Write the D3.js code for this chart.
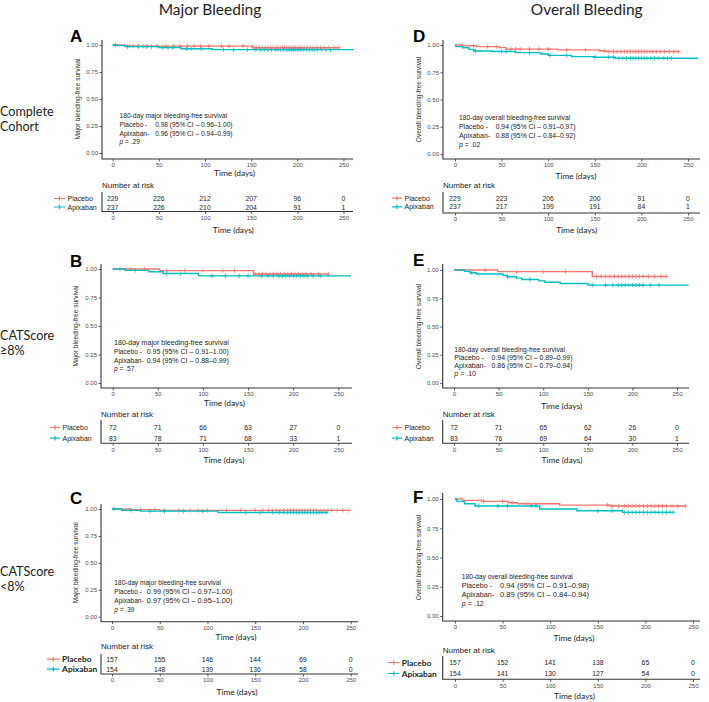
<!DOCTYPE html>
<html><head><meta charset="utf-8">
<script src="https://cdn.jsdelivr.net/npm/d3@7"></script>
<style>body{margin:0;background:#fff}svg{display:block}</style>
</head><body><svg id="c" width="709" height="702"></svg>
<script>
// ---------- data ----------
const timeTicks=[0,50,100,150,200,250];
const survTicks=[0,0.25,0.5,0.75,1];
const groups=["Placebo","Apixaban"];
const groupColors=["#F8766D","#00BFC4"];
const colTitles=["Major Bleeding","Overall Bleeding"];
const rowLabels=[["Complete","Cohort"],["CATScore","≥8%"],["CATScore","<8%"]];
const yLabels=["Major bleeding-free survival","Overall bleeding-free survival"];
const annoTitles=["180-day major bleeding-free survival","180-day overall bleeding-free survival"];

// Panel A – major bleeding, complete cohort
const aPlaceboT=[0,13,152], aPlaceboS=[1,0.99,0.975], aPlaceboEnd=245;
const aPlaceboCens=[18,22,27,33,38,48,58,66,73,81,88,95,104,118,126,141,152,156,159,162,165,168,171,174,177,179,182,184,186,188,190,192,194,196,198,200,202,204,206,208,211,214,217,221,225,229,234,240,245];
const aApixT=[0,5,14,50,74,108], aApixS=[1,0.994,0.985,0.976,0.965,0.957], aApixEnd=261;
const aApixCens=[3,16,28,36,42,54,60,65,80,85,96,120,131,146,155,160,164,168,172,176,179,182,185,188,190,192,194,196,198,200,202,204,207,210,213,216,219,222,226,231,236];
const aRiskPlacebo=[229,226,212,207,96,0], aRiskApix=[237,226,210,204,91,1];
const aEst=["0.98 (95% CI – 0.96–1.00)","0.96 (95% CI – 0.94–0.99)"], aP=".29";

// Panel B – major bleeding, CATScore >=8%
const bPlaceboT=[0,52,156], bPlaceboS=[1,0.986,0.956], bPlaceboEnd=239;
const bPlaceboCens=[8,20,35,60,80,100,122,135,158,162,166,170,174,178,182,186,190,194,198,202,206,210,214,220,228,239];
const bApixT=[0,14,40,56,95], bApixS=[1,0.988,0.976,0.96,0.94], bApixEnd=264;
const bApixCens=[25,60,75,110,125,140,150,165,172,178,184,188,192,196,200,204,208,212,216,222,230];
const bRiskPlacebo=[72,71,66,63,27,0], bRiskApix=[83,78,71,68,33,1];
const bEst=["0.95 (95% CI – 0.91–1.00)","0.94 (95% CI – 0.88–0.99)"], bP=".57";

// Panel C – major bleeding, CATScore <8%
const cPlaceboT=[0,20,50], cPlaceboS=[1,0.994,0.987], cPlaceboEnd=248;
const cPlaceboCens=[30,45,55,70,82,90,100,120,135,150,158,164,168,172,176,180,184,187,190,193,196,199,202,205,208,211,214,218,222,226,230,236,242,248];
const cApixT=[0,10,30,111], cApixS=[1,0.987,0.98,0.968], cApixEnd=226;
const cApixCens=[2,20,40,55,75,95,140,155,168,175,180,184,187,190,193,196,199,202,205,208,211,214,217,220,224];
const cRiskPlacebo=[157,155,146,144,69,0], cRiskApix=[154,148,139,136,58,0];
const cEst=["0.99 (95% CI – 0.97–1.00)","0.97 (95% CI – 0.95–1.00)"], cP=".39";

// Panel D – overall bleeding, complete cohort
const dPlaceboT=[0,8,23,48,55,110,155,162], dPlaceboS=[1,0.993,0.985,0.976,0.962,0.955,0.947,0.94], dPlaceboEnd=240;
const dPlaceboCens=[20,35,45,60,65,70,80,90,100,120,140,160,165,170,174,178,182,185,188,191,194,197,200,203,206,209,212,216,220,225,230,235,240];
const dApixT=[0,1,8,15,20,40,65,92,100,125,150,172], dApixS=[1,0.985,0.975,0.96,0.945,0.94,0.93,0.918,0.905,0.893,0.887,0.878], dApixEnd=261;
const dApixCens=[22,50,55,80,102,120,150,165,170,176,180,184,188,191,194,197,200,203,206,210,214,218,224,228,232];
const dRiskPlacebo=[229,223,206,200,91,0], dRiskApix=[237,217,199,191,84,1];
const dEst=["0.94 (95% CI – 0.91–0.97)","0.88 (95% CI – 0.84–0.92)"], dP=".02";

// Panel E – overall bleeding, CATScore >=8%
const ePlaceboT=[0,49,155], ePlaceboS=[1,0.986,0.943], ePlaceboEnd=238;
const ePlaceboCens=[35,70,100,125,160,165,170,175,180,184,188,192,196,200,204,208,212,218,225,232,238];
const eApixT=[0,12,18,25,55,60,70,76,95,102,119,150], eApixS=[1,0.988,0.976,0.964,0.952,0.94,0.928,0.916,0.904,0.892,0.88,0.866], eApixEnd=263;
const eApixCens=[20,60,85,155,170,178,184,188,192,196,200,204,208,212,220,230];
const eRiskPlacebo=[72,71,65,62,26,0], eRiskApix=[83,76,69,64,30,1];
const eEst=["0.94 (95% CI – 0.89–0.99)","0.86 (95% CI – 0.79–0.94)"], eP=".10";

// Panel F – overall bleeding, CATScore <8%
const fPlaceboT=[0,8,28,56,66,110,163], fPlaceboS=[1,0.988,0.98,0.968,0.96,0.948,0.94], fPlaceboEnd=242;
const fPlaceboCens=[30,50,60,75,85,160,165,172,178,182,186,190,194,198,202,206,210,214,218,222,228,234,242];
const fApixT=[0,2,10,21,89,128,176], fApixS=[1,0.98,0.96,0.94,0.915,0.9,0.886], fApixEnd=229;
const fApixCens=[25,45,55,80,85,150,165,178,182,186,190,194,198,202,206,210,214,218,222,226,229];
const fRiskPlacebo=[157,152,141,138,65,0], fRiskApix=[154,141,130,127,54,0];
const fEst=["0.94 (95% CI – 0.91–0.98)","0.89 (95% CI – 0.84–0.94)"], fP=".12";

// ---------- layout ----------
const panels=[
 {letter:"A",col:0,curves:[[aPlaceboT,aPlaceboS,aPlaceboEnd,aPlaceboCens],[aApixT,aApixS,aApixEnd,aApixCens]],risk:[aRiskPlacebo,aRiskApix],est:aEst,p:aP,
  L:{ax:102,top:40,bottom:159,right:353,t0:112.7,t250:343.5,y0:153,y1:45,letter:[70,41.7],yLab:79.5,xlab:[234.5,176],
     anno:[119.5,118.4,8.6],valDx:35.7,fsT:6.66,fsL:6.6,fsV:6.6,
     tb:{title:187.5,b1:201,b2:209.5,axis:211.5,top:192,xlab:[233.3,232.5],leg:54,legW:11,legBold:false}}},
 {letter:"B",col:0,curves:[[bPlaceboT,bPlaceboS,bPlaceboEnd,bPlaceboCens],[bApixT,bApixS,bApixEnd,bApixCens]],risk:[bRiskPlacebo,bRiskApix],est:bEst,p:bP,
  L:{ax:101,top:264,bottom:388,right:352,t0:112.7,t250:338.3,y0:383,y1:269,letter:[70,266.7],yLab:78,xlab:[224.5,405.5],
     anno:[114,344.7,8.9],valDx:32.7,fsT:7.1,fsL:6.6,fsV:7.0,
     tb:{title:417.3,b1:430,b2:440.7,axis:443.3,top:420,xlab:[224,462.5],leg:50,legW:10,legBold:false}}},
 {letter:"C",col:0,curves:[[cPlaceboT,cPlaceboS,cPlaceboEnd,cPlaceboCens],[cApixT,cApixS,cApixEnd,cApixCens]],risk:[cRiskPlacebo,cRiskApix],est:cEst,p:cP,
  L:{ax:101,top:504,bottom:621.7,right:358,t0:112,t250:350.7,y0:616.7,y1:509,letter:[70,503.5],yLab:78,xlab:[236,640],
     anno:[114.3,585.3,8.8],valDx:32.5,fsT:6.6,fsL:6.5,fsV:7.3,
     tb:{title:649,b1:661.7,b2:671.7,axis:674,top:654,xlab:[237,695],leg:47,legW:12.6,legBold:true}}},
 {letter:"D",col:1,curves:[[dPlaceboT,dPlaceboS,dPlaceboEnd,dPlaceboCens],[dApixT,dApixS,dApixEnd,dApixCens]],risk:[dRiskPlacebo,dRiskApix],est:dEst,p:dP,
  L:{ax:443,top:40,bottom:159,right:700,t0:455,t250:688,y0:154,y1:45,letter:[413,41.7],yLab:421,xlab:[576,178.5],
     anno:[459,120,8.9],valDx:36.7,fsT:6.7,fsL:6.9,fsV:6.8,
     tb:{title:188,b1:200.7,b2:209.3,axis:213,top:192,xlab:[576.7,232.5],leg:392,legW:10,legBold:false}}},
 {letter:"E",col:1,curves:[[ePlaceboT,ePlaceboS,ePlaceboEnd,ePlaceboCens],[eApixT,eApixS,eApixEnd,eApixCens]],risk:[eRiskPlacebo,eRiskApix],est:eEst,p:eP,
  L:{ax:442.7,top:264,bottom:388,right:689,t0:454,t250:677,y0:383,y1:270,letter:[413,266],yLab:420.5,xlab:[561.7,408.5],
     anno:[454.3,351.5,8.1],valDx:37.3,fsT:6.66,fsL:7,fsV:6.9,
     tb:{title:417.3,b1:430,b2:440.7,axis:443.3,top:420,xlab:[562,462.5],leg:392,legW:10,legBold:false}}},
 {letter:"F",col:1,curves:[[fPlaceboT,fPlaceboS,fPlaceboEnd,fPlaceboCens],[fApixT,fApixS,fApixEnd,fApixCens]],risk:[fRiskPlacebo,fRiskApix],est:fEst,p:fP,
  L:{ax:442.7,top:493,bottom:621,right:700,t0:455,t250:693,y0:616,y1:499,letter:[413,503.3],yLab:421,xlab:[574,641],
     anno:[461.7,579,9.1],valDx:38.3,fsT:6.7,fsL:7.2,fsV:7.6,
     tb:{title:653.3,b1:665,b2:676,axis:679.3,top:656,xlab:[574.5,699],leg:388.3,legW:11,legBold:true}}}
];

const svg=d3.select("#c");
const SANS="'Liberation Sans', Arial, sans-serif";
const CAL="Lato, 'Open Sans', sans-serif";

// column titles & row labels
const colX=[210,586.7];
svg.selectAll("text.coltitle").data(colTitles).enter().append("text").attr("class","coltitle")
  .attr("x",(d,i)=>colX[i]).attr("y",15).attr("text-anchor","middle")
  .attr("font-family",CAL).attr("font-size",15.5).attr("fill","#222").text(d=>d);
const rowY=[[116,131],[340,354.5],[576,590.7]];
rowLabels.forEach((r,i)=>{
  r.forEach((t,j)=>svg.append("text").attr("x",0).attr("y",rowY[i][j]).attr("font-family",CAL)
    .attr("font-size",12.6).attr("fill","#222").text(t));
});

function stepVal(T,S,t){let v=S[0];for(let i=0;i<T.length;i++){if(T[i]<=t)v=S[i];}return v;}

function styleAxis(a,fs){
  a.select(".domain").remove();
  a.selectAll(".tick line").attr("stroke","#333").attr("stroke-width",0.8);
  a.selectAll(".tick text").attr("fill","#4d4d4d").attr("font-family",SANS).attr("font-size",fs);
}

panels.forEach(P=>{
  const L=P.L, g=svg.append("g");
  const x=d3.scaleLinear().domain([0,250]).range([L.t0,L.t250]);
  const y=d3.scaleLinear().domain([0,1]).range([L.y0,L.y1]);
  g.append("text").attr("x",L.letter[0]).attr("y",L.letter[1]).attr("font-family",SANS)
    .attr("font-weight","bold").attr("font-size",17).text(P.letter);
  const ya=g.append("g").attr("transform",`translate(${L.ax},0)`)
    .call(d3.axisLeft(y).tickValues(survTicks).tickFormat(d3.format(".2f")).tickSize(2.5).tickPadding(1.5));
  styleAxis(ya,6);
  const xa=g.append("g").attr("transform",`translate(0,${L.bottom})`)
    .call(d3.axisBottom(x).tickValues(timeTicks).tickSize(2.5).tickPadding(1.5));
  styleAxis(xa,6);
  g.append("path").attr("d",`M${L.ax},${L.top}V${L.bottom}H${L.right}`).attr("fill","none")
    .attr("stroke","#333").attr("stroke-width",1.1);
  g.append("text").attr("transform",`translate(${L.yLab},${(L.y0+L.y1)/2}) rotate(-90)`)
    .attr("text-anchor","middle").attr("font-family",SANS).attr("font-size",6.6).attr("fill","#333").text(yLabels[P.col]);
  g.append("text").attr("x",L.xlab[0]).attr("y",L.xlab[1]).attr("text-anchor","middle")
    .attr("font-family",CAL).attr("font-size",8.4).attr("fill","#222").text("Time (days)");
  // curves
  P.curves.forEach((c,k)=>{
    const [T,S,end,cens]=c;
    const pts=T.map((t,i)=>[t,S[i]]); pts.push([end,S[S.length-1]]);
    const line=d3.line().x(d=>x(d[0])).y(d=>y(d[1])).curve(d3.curveStepAfter);
    g.append("path").attr("d",line(pts)).attr("fill","none").attr("stroke",groupColors[k]).attr("stroke-width",1.4);
    const h=2.2;
    g.append("path").attr("d",cens.map(t=>{const cx=x(t),cy=y(stepVal(T,S,t));return `M${cx-h},${cy}H${cx+h}M${cx},${cy-h}V${cy+h}`;}).join(""))
      .attr("stroke",groupColors[k]).attr("stroke-width",0.8).attr("fill","none");
  });
  // annotation
  const [ax0,ay0,dy]=L.anno;
  const an=g.append("g").attr("font-family",SANS).attr("fill","#222");
  an.append("text").attr("x",ax0).attr("y",ay0).attr("font-size",L.fsT).text(annoTitles[P.col]);
  an.append("text").attr("x",ax0).attr("y",ay0+dy).attr("font-size",L.fsL).text("Placebo -");
  an.append("text").attr("x",ax0+L.valDx).attr("y",ay0+dy).attr("font-size",L.fsV).text(P.est[0]);
  an.append("text").attr("x",ax0).attr("y",ay0+2*dy).attr("font-size",L.fsL).text("Apixaban-");
  an.append("text").attr("x",ax0+L.valDx).attr("y",ay0+2*dy).attr("font-size",L.fsV).text(P.est[1]);
  const pt=an.append("text").attr("x",ax0).attr("y",ay0+3*dy).attr("font-size",L.fsL);
  pt.append("tspan").attr("font-style","italic").text("p");
  pt.append("tspan").text(" = "+P.p);
  // risk table
  const tb=L.tb;
  g.append("text").attr("x",L.ax).attr("y",tb.title).attr("font-family",SANS).attr("font-size",8).attr("fill","#222").text("Number at risk");
  [tb.b1,tb.b2].forEach((by,k)=>{
    g.append("g").selectAll("text").data(P.risk[k]).enter().append("text")
      .attr("x",(d,i)=>x(timeTicks[i])).attr("y",by).attr("text-anchor","middle")
      .attr("font-family",SANS).attr("font-size",6.8).attr("fill","#222").text(d=>d);
    const my=by-2.5;
    g.append("path").attr("d",`M${tb.leg},${my}H${tb.leg+tb.legW}M${tb.leg+tb.legW/2},${my-2.2}V${my+2.2}`)
      .attr("stroke",groupColors[k]).attr("stroke-width",1.2);
    g.append("text").attr("x",tb.leg+tb.legW+2.5).attr("y",tb.legBold?by+0.5:by).attr("font-family",tb.legBold?CAL:SANS)
      .attr("font-weight",tb.legBold?"bold":"normal").attr("font-size",tb.legBold?8.4:7).attr("fill","#222").text(groups[k]);
  });
  const ta=g.append("g").attr("transform",`translate(0,${tb.axis})`)
    .call(d3.axisBottom(x).tickValues(timeTicks).tickSize(2.5).tickPadding(1.5));
  styleAxis(ta,6);
  g.append("path").attr("d",`M${L.ax},${tb.top}V${tb.axis}H${L.right}`).attr("fill","none")
    .attr("stroke","#333").attr("stroke-width",1.1);
  g.append("text").attr("x",tb.xlab[0]).attr("y",tb.xlab[1]).attr("text-anchor","middle")
    .attr("font-family",CAL).attr("font-size",8.4).attr("fill","#222").text("Time (days)");
});
</script></body></html>
